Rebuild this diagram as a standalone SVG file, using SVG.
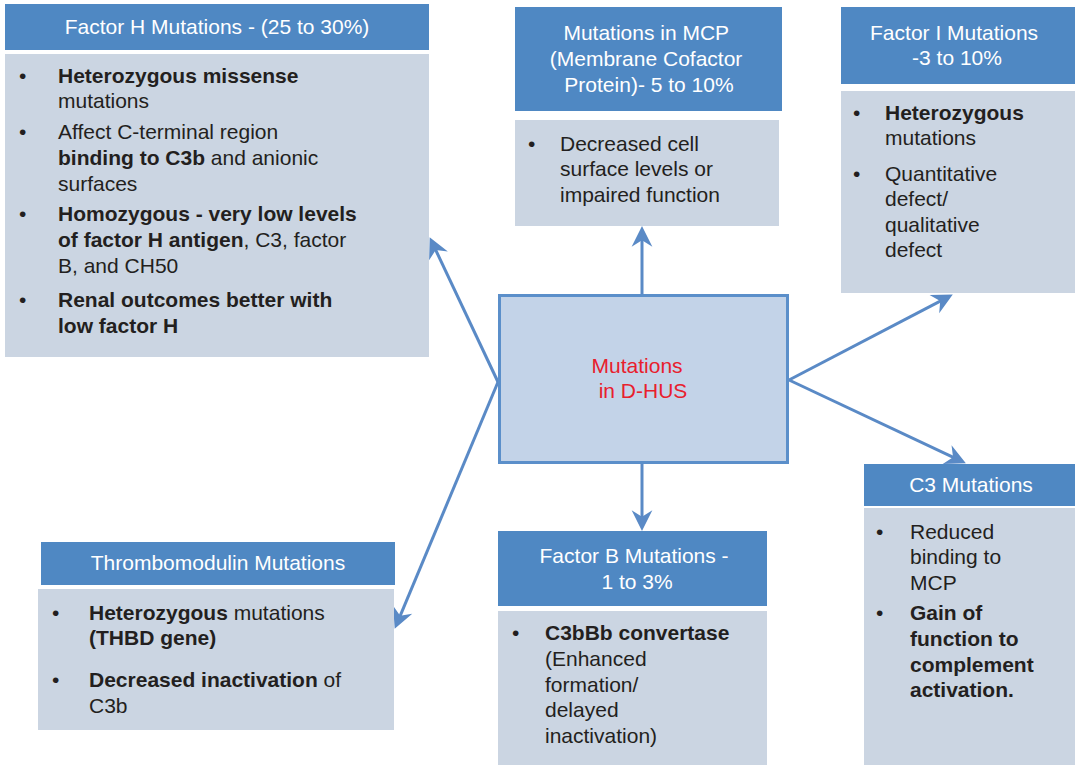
<svg xmlns="http://www.w3.org/2000/svg" width="1075" height="765" viewBox="0 0 1075 765">
  <defs>
    <style>
      .hdr { fill: #4f88c3; }
      .body { fill: #cbd5e2; }
      .ht { font-family: "Liberation Sans", Arial, sans-serif; font-size: 21px; fill: #ffffff; text-anchor: middle; }
      .bt { font-family: "Liberation Sans", Arial, sans-serif; font-size: 21px; fill: #231f20; }
      .b { font-weight: bold; }
      .conn { stroke: #5a8ac6; stroke-width: 3; fill: none; marker-end: url(#arr); }
    </style>
    <marker id="arr" markerUnits="userSpaceOnUse" markerWidth="24" markerHeight="22" viewBox="-10 -10 22 20" refX="0" refY="0" orient="auto">
      <path d="M10,0 L-9,-9.5 L-3,0 L-9,9.5 Z" fill="#5a8ac6"/>
    </marker>
  </defs>

  <!-- connectors from the central box -->
  <g id="connectors">
    <line class="conn" x1="498" y1="382" x2="434.3" y2="247"/>
    <line class="conn" x1="498" y1="382" x2="398.9" y2="618.8"/>
    <line class="conn" x1="642" y1="294" x2="642" y2="237"/>
    <line class="conn" x1="642" y1="463" x2="642" y2="520"/>
    <line class="conn" x1="789" y1="380" x2="943.1" y2="299.6"/>
    <line class="conn" x1="789" y1="380" x2="956" y2="458.7"/>
  </g>

  <!-- central node -->
  <g id="center">
    <rect x="499.5" y="295.5" width="288" height="167" fill="#c3d3e8" stroke="#5b8fca" stroke-width="3"/>
    <text font-family="Liberation Sans, Arial, sans-serif" font-size="21" fill="#e8202d" text-anchor="middle">
      <tspan x="640" y="373">Mutations</tspan>
      <tspan x="643" y="398">in D-HUS</tspan>
    </text>
  </g>

  <!-- Factor H -->
  <g id="factor-h">
    <rect class="hdr" x="5" y="4" width="424" height="46"/>
    <text class="ht" x="217" y="34">Factor H Mutations - (25 to 30%)</text>
    <rect class="body" x="5" y="54" width="424" height="303"/>
    <g class="bt">
      <text x="19" y="83">•</text>
      <text x="58" y="83" class="b">Heterozygous missense</text>
      <text x="58" y="108">mutations</text>
      <text x="19" y="139">•</text>
      <text x="58" y="139">Affect C-terminal region</text>
      <text x="58" y="165"><tspan class="b">binding to C3b</tspan> and anionic</text>
      <text x="58" y="191">surfaces</text>
      <text x="19" y="221">•</text>
      <text x="58" y="221" class="b">Homozygous - very low levels</text>
      <text x="58" y="247"><tspan class="b">of factor H antigen</tspan>, C3, factor</text>
      <text x="58" y="273">B, and CH50</text>
      <text x="19" y="307">•</text>
      <text x="58" y="307" class="b">Renal outcomes better with</text>
      <text x="58" y="333" class="b">low factor H</text>
    </g>
  </g>

  <!-- MCP -->
  <g id="mcp">
    <rect class="hdr" x="515" y="7" width="267" height="104"/>
    <text class="ht">
      <tspan x="649" y="40">Mutations in MCP</tspan>
      <tspan x="649" y="66">(Membrane Cofactor</tspan>
      <tspan x="649" y="92">Protein)- 5 to 10%</tspan>
    </text>
    <rect class="body" x="515" y="120" width="264" height="106"/>
    <g class="bt">
      <text x="528" y="151">•</text>
      <text x="560" y="151">Decreased cell</text>
      <text x="560" y="176">surface levels or</text>
      <text x="560" y="202">impaired function</text>
    </g>
  </g>

  <!-- Factor I -->
  <g id="factor-i">
    <rect class="hdr" x="841" y="7" width="234" height="77"/>
    <text class="ht">
      <tspan x="957" y="40">Factor I Mutations</tspan>
      <tspan x="957" y="65">-3 to 10%</tspan>
    </text>
    <rect class="body" x="841" y="91" width="234" height="202"/>
    <g class="bt">
      <text x="853" y="120">•</text>
      <text x="885" y="120" class="b">Heterozygous</text>
      <text x="885" y="145">mutations</text>
      <text x="853" y="181">•</text>
      <text x="885" y="181">Quantitative</text>
      <text x="885" y="206">defect/</text>
      <text x="885" y="232">qualitative</text>
      <text x="885" y="257">defect</text>
    </g>
  </g>

  <!-- Thrombomodulin -->
  <g id="thrombomodulin">
    <rect class="hdr" x="41" y="542" width="354" height="43"/>
    <text class="ht" x="218" y="570">Thrombomodulin Mutations</text>
    <rect class="body" x="38" y="589" width="356" height="141"/>
    <g class="bt">
      <text x="52" y="620">•</text>
      <text x="89" y="620"><tspan class="b">Heterozygous</tspan> mutations</text>
      <text x="89" y="645" class="b">(THBD gene)</text>
      <text x="52" y="687">•</text>
      <text x="89" y="687"><tspan class="b">Decreased inactivation</tspan> of</text>
      <text x="89" y="713">C3b</text>
    </g>
  </g>

  <!-- Factor B -->
  <g id="factor-b">
    <rect class="hdr" x="498" y="531" width="269" height="75"/>
    <text class="ht">
      <tspan x="637" y="563">Factor B Mutations -</tspan>
      <tspan x="637" y="589">1 to 3%</tspan>
    </text>
    <rect class="body" x="498" y="611" width="269" height="154"/>
    <g class="bt">
      <text x="512" y="640">•</text>
      <text x="545" y="640" class="b">C3bBb convertase</text>
      <text x="545" y="666">(Enhanced</text>
      <text x="545" y="692">formation/</text>
      <text x="545" y="717">delayed</text>
      <text x="545" y="743">inactivation)</text>
    </g>
  </g>

  <!-- C3 -->
  <g id="c3">
    <rect class="hdr" x="864" y="464" width="211" height="42"/>
    <text class="ht" x="971" y="492">C3 Mutations</text>
    <rect class="body" x="864" y="508" width="211" height="257"/>
    <g class="bt">
      <text x="876" y="539">•</text>
      <text x="910" y="539">Reduced</text>
      <text x="910" y="564">binding to</text>
      <text x="910" y="590">MCP</text>
      <text x="876" y="620">•</text>
      <text x="910" y="620" class="b">Gain of</text>
      <text x="910" y="646" class="b">function to</text>
      <text x="910" y="672" class="b">complement</text>
      <text x="910" y="697" class="b">activation.</text>
    </g>
  </g>
</svg>
